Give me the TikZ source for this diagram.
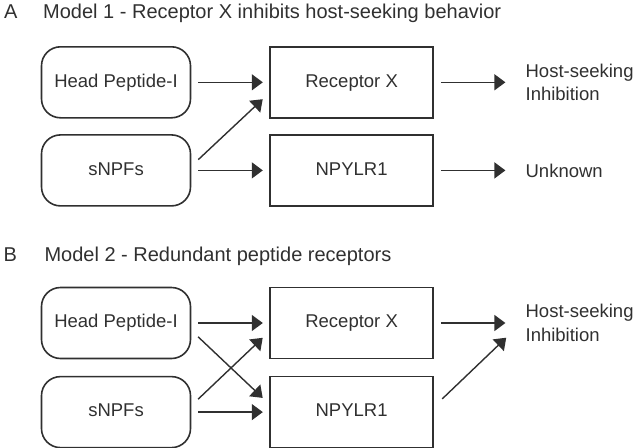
\documentclass[tikz,border=0pt]{standalone}
\usepackage{fontspec}
\setmainfont{Liberation Sans}
\usetikzlibrary{positioning,arrows.meta}
\definecolor{ink}{HTML}{303030}

\begin{document}
\begin{tikzpicture}[>={Triangle[length=11pt,width=16pt]}, node distance=78pt,
    every node/.style={font=\fontsize{18.5}{23.3}\selectfont, text=ink, inner sep=0pt},
    heading/.style={anchor=base west, font=\fontsize{20}{24}\selectfont},
    peptide/.style={draw=ink, line width=1.6pt, rounded corners=19pt, minimum width=149pt, minimum height=71pt, text height=13.5pt, text depth=3.9pt},
    receptor/.style={draw=ink, line width=1.6pt, minimum width=163pt, minimum height=71pt, text height=13.5pt, text depth=3.9pt},
    outcome/.style={align=left},
    link/.style={->, draw=ink, line width=1.4pt, shorten <=7pt, shorten >=6.5pt},
    cross/.style={->, draw=ink, line width=1.4pt}]
  \useasboundingbox (0,0) rectangle (642pt,-447pt);

  % Model 1
  \node (labA) [heading] at (4pt,-18.3pt) {A};
  \node (titleA) [heading] at (43pt,-18.3pt) {Model 1 - Receptor X inhibits host-seeking behavior};
  \node (hpA) [peptide] at (116pt,-82.3pt) {Head Peptide-I};
  \node (snA) [peptide, below=15.5pt of hpA] {sNPFs};
  \node (rxA) [receptor, right=of hpA] {Receptor X};
  \node (npA) [receptor, right=of snA] {NPYLR1};
  \node (hostA) [outcome, right=91.5pt of rxA] {Host-seeking\\Inhibition};
  \node (unkA) [outcome, right=91.5pt of npA] {Unknown};

  \draw[link] (hpA) -- (rxA);
  \draw[link] (snA) -- (npA);
  \draw[cross] ([shift={(7pt,10.8pt)}]snA.east) -- ([shift={(-6.6pt,-16.9pt)}]rxA.west);
  \draw[link, shorten >=20pt] (rxA) -- (hostA);
  \draw[link, shorten >=20pt] (npA) -- (unkA);

  % Model 2
  \node (labB) [heading] at (3.5pt,-261pt) {B};
  \node (titleB) [heading] at (44.3pt,-261pt) {Model 2 - Redundant peptide receptors};
  \node (hpB) [peptide, below=80pt of snA] {Head Peptide-I};
  \node (snB) [peptide, below=16.5pt of hpB] {sNPFs};
  \node (rxB) [receptor, right=of hpB] {Receptor X};
  \node (npB) [receptor, right=of snB] {NPYLR1};
  \node (hostB) [outcome, right=91.5pt of rxB] {Host-seeking\\Inhibition};

  \draw[link] (hpB) -- (rxB);
  \draw[link] (snB) -- (npB);
  \draw[cross] ([shift={(6.8pt,-13.8pt)}]hpB.east) -- ([shift={(-6.6pt,14.2pt)}]npB.west);
  \draw[cross] ([shift={(6.8pt,12.9pt)}]snB.east) -- ([shift={(-6.6pt,-14.8pt)}]rxB.west);
  \draw[link, shorten >=20pt] (rxB) -- (hostB);
  \draw[cross] ([shift={(8.3pt,13.2pt)}]npB.east) -- ([shift={(-19.2pt,-14.7pt)}]hostB.west);
\end{tikzpicture}
\end{document}
